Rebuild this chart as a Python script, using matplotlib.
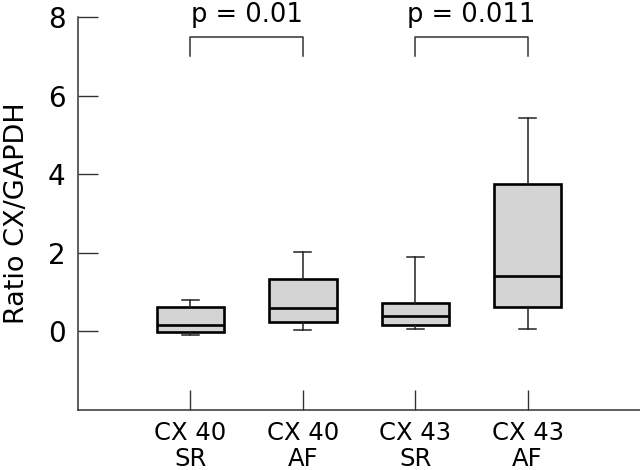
import numpy as np
import matplotlib
matplotlib.use("Agg")
import matplotlib.pyplot as plt

# data
groups = ["CX 40\nSR", "CX 40\nAF", "CX 43\nSR", "CX 43\nAF"]
whislo = [-0.10, 0.03, 0.05, 0.05]
q1 = [-0.03, 0.23, 0.15, 0.63]
med = [0.15, 0.58, 0.38, 1.40]
q3 = [0.61, 1.32, 0.71, 3.76]
whishi = [0.79, 2.02, 1.90, 5.43]

pairs = [(1, 2), (3, 4)]
p_labels = ["p = 0.01", "p = 0.011"]

plt.rcParams["font.family"] = ["DejaVu Sans"]

fig = plt.figure(figsize=(6.4, 4.7), dpi=100)
ax = fig.add_axes([0.122, 0.128, 0.878, 0.836])

stats = []
for i in range(len(groups)):
    stats.append(dict(whislo=whislo[i], q1=q1[i], med=med[i], q3=q3[i], whishi=whishi[i], fliers=[]))

ax.bxp(
    stats,
    positions=[1, 2, 3, 4],
    widths=0.6,
    capwidths=0.15,
    patch_artist=True,
    showfliers=False,
    boxprops=dict(facecolor="#d4d4d4", edgecolor="black", linewidth=1.9),
    medianprops=dict(color="black", linewidth=1.9),
    whiskerprops=dict(color="#222222", linewidth=1.1),
    capprops=dict(color="#222222", linewidth=1.1),
)

# significance brackets
for (a, b), lab in zip(pairs, p_labels):
    ax.plot([a, a, b, b], [7.0, 7.5, 7.5, 7.0], color="#333333", lw=1.1)
    ax.text((a + b) / 2, 7.87, lab, ha="center", va="baseline", fontsize=18.5)

ax.set_xlim(0, 5)
ax.set_ylim(-2, 8)
ax.set_yticks([0, 2, 4, 6, 8])
ax.set_xticks([1, 2, 3, 4])
ax.set_xticklabels(groups, fontsize=17.5, linespacing=1.1)
ax.tick_params(axis="y", labelsize=20, direction="in", length=14.5, width=1, color="#333333", pad=9)
ax.tick_params(axis="x", direction="in", length=14.5, width=1, color="#333333", pad=8)
ax.set_ylabel("Ratio CX/GAPDH", fontsize=19.5, labelpad=13)

for s in ["top", "right"]:
    ax.spines[s].set_visible(False)
for s in ["left", "bottom"]:
    ax.spines[s].set_color("#333333")
    ax.spines[s].set_linewidth(1.1)

fig.savefig("out.png", dpi=100)
